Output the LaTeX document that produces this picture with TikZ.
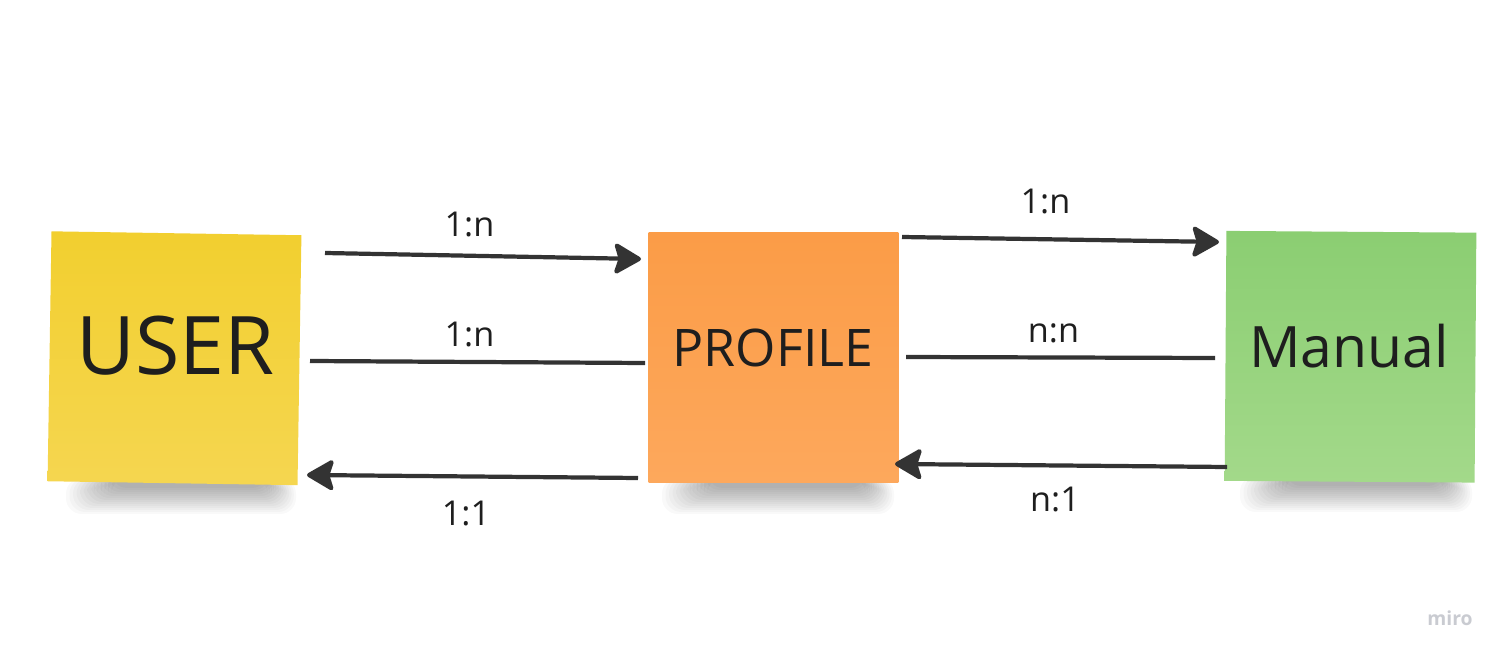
\documentclass[tikz,border=0pt]{standalone}
\usepackage{fontspec}
\setmainfont{Open Sans}
\usetikzlibrary{arrows.meta}
\definecolor{lineC}{HTML}{333333}
\definecolor{textC}{HTML}{1E1E1E}
\definecolor{yelTop}{HTML}{F2CF2F}
\definecolor{yelBot}{HTML}{F5D650}
\definecolor{orTop}{HTML}{FB9C47}
\definecolor{orBot}{HTML}{FDA85C}
\definecolor{grTop}{HTML}{8BCE72}
\definecolor{grBot}{HTML}{A3D98A}
\definecolor{miroC}{HTML}{C9CBD1}
\newcommand\stickyshadow[3]{%
  \foreach \k in {0,...,13}{%
    \fill[black, opacity=0.022, rounded corners=9pt]
      (#1+3.5*\k, #3-6) rectangle (#2-2.2*\k, #3+30-2.0*\k);
  }%
}
\begin{document}
\begin{tikzpicture}[x=0.02cm,y=-0.02cm,
  note/.style={minimum width=5cm, minimum height=5cm, inner sep=0pt, draw=none},
  notetext/.style={anchor=base, inner sep=0pt, text=textC},
  conn/.style={draw=lineC, line width=2.4pt},
  arr/.style={conn, -{Stealth[length=17pt,width=19.5pt,inset=3pt,round]}},
  lbl/.style={anchor=base, inner sep=0pt, text=textC, font=\fontsize{19.5}{22}\selectfont}
]
\useasboundingbox (0,0) rectangle (1510,661);
\fill[white] (0,0) rectangle (1510,661);

% shadows
\stickyshadow{66}{296}{484}
\stickyshadow{662}{894}{484}
\stickyshadow{1240}{1472}{482}

% sticky notes
\node[note, top color=yelTop, bottom color=yelBot, rotate=-0.9] (user) at (174.5,358.25) {};
\node[note, top color=orTop, bottom color=orBot] (profile) at (773.5,357.25) {};
\node[note, top color=grTop, bottom color=grBot, rotate=-0.4] (manual) at (1350.5,356.75) {};

\node[notetext, font=\fontsize{46}{50}\selectfont] (usert) at (175.5,375) {USER};
\node[notetext, font=\fontsize{29.5}{32}\selectfont] (profilet) at (773,367) {PROFILE};
\node[notetext, font=\fontsize{32.5}{36}\selectfont] (manualt) at (1349,368) {Manual};

% connector end points
\coordinate (a1s) at (325,253);  \coordinate (a1e) at (641,259);
\coordinate (a2s) at (310,361);  \coordinate (a2e) at (645,363);
\coordinate (a3s) at (638,478);  \coordinate (a3e) at (307,475);
\coordinate (a4s) at (902,237);  \coordinate (a4e) at (1219,242);
\coordinate (a5s) at (906,357);  \coordinate (a5e) at (1215,358);
\coordinate (a6s) at (1227,467); \coordinate (a6e) at (895,464);

\draw[arr] (a1s) -- (a1e);
\draw[conn] (a2s) -- (a2e);
\draw[arr] (a3s) -- (a3e);
\draw[arr] (a4s) -- (a4e);
\draw[conn] (a5s) -- (a5e);
\draw[arr] (a6s) -- (a6e);

% labels
\node[lbl] (l1) at (469.5,237) {1:n};
\node[lbl] (l2) at (469.5,347) {1:n};
\node[lbl] (l3) at (466,525) {1:1};
\node[lbl] (l4) at (1045.5,214) {1:n};
\node[lbl] (l5) at (1053.5,343) {n:n};
\node[lbl] (l6) at (1055,512) {n:1};

% watermark
\node[anchor=base, inner sep=0pt, text=miroC, font=\fontsize{11}{12}\selectfont\bfseries] (miro) at (1450,625) {miro};
\end{tikzpicture}
\end{document}
